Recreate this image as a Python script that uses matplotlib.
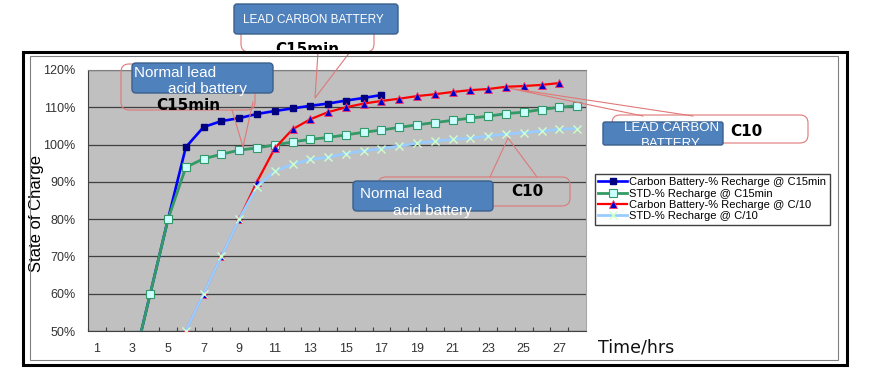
import matplotlib
matplotlib.use("Agg")
import matplotlib.pyplot as plt
from matplotlib.patches import FancyBboxPatch, Rectangle
from matplotlib.lines import Line2D
from matplotlib.transforms import Affine2D, Bbox

# hours (category axis) and state of charge in %
hours_carbon_c15 = list(range(3, 18))
carbon_c15 = [40, 60, 80, 99.3, 104.7, 106.3, 107.1, 108.2, 109.0, 109.7,
              110.4, 111.0, 111.8, 112.5, 113.3]

hours_std_c15 = list(range(3, 29))
std_c15 = [40, 60, 80, 93.9, 96.2, 97.4, 98.5, 99.1, 99.9, 100.7, 101.4,
           101.9, 102.6, 103.3, 103.9, 104.6, 105.3, 105.9, 106.5, 107.1,
           107.6, 108.3, 108.7, 109.4, 110.0, 110.4]

hours_carbon_c10 = list(range(6, 28))
carbon_c10 = [50, 60, 70, 80, 90, 99.0, 104.1, 106.8, 108.7, 110.0, 111.0,
              111.7, 112.3, 113.0, 113.5, 114.1, 114.6, 114.9, 115.5, 115.7,
              116.0, 116.5]

hours_std_c10 = list(range(6, 29))
std_c10 = [50, 60, 70, 80, 88.7, 92.9, 94.7, 96.0, 96.6, 97.6, 98.3, 98.9,
           99.6, 100.4, 100.9, 101.4, 101.7, 102.3, 102.8, 103.2, 103.6,
           104.1, 104.3]

series_labels = ["Carbon Battery-% Recharge @ C15min",
                 "STD-% Recharge @ C15min",
                 "Carbon Battery-% Recharge @ C/10",
                 "STD-% Recharge @ C/10"]

y_ticks = [50, 60, 70, 80, 90, 100, 110, 120]
x_ticks = list(range(1, 28, 2))

W, H = 886, 390
fig = plt.figure(figsize=(W / 100, H / 100), dpi=100)
fig.patch.set_facecolor("white")
# pixel coordinates, origin top-left
PX = Affine2D().scale(1 / W, -1 / H).translate(0, 1) + fig.transFigure

ax = fig.add_axes([88 / W, (H - 331) / H, 498 / W, 261 / H])
ax.set_facecolor("#C0C0C0")

l1, = ax.plot(hours_carbon_c15, carbon_c15, color="#0000FF", lw=1.9,
              marker="s", ms=5, mfc="#000080", mec="#000080", zorder=3)
l2, = ax.plot(hours_std_c15, std_c15, color="#339966", lw=2.0,
              marker="s", ms=5.5, mfc="#CCFFFF", mec="#339966", mew=0.8, zorder=3)
l3, = ax.plot(hours_carbon_c10, carbon_c10, color="#FF0000", lw=1.6,
              marker="^", ms=6, mfc="#0000CC", mec="#FF3366", mew=0.6, zorder=3)
l4, = ax.plot(hours_std_c10, std_c10, color="#99CCFF", lw=2.0,
              marker="x", ms=6, mec="#CCFFCC", mew=1.0, zorder=3)

ax.set_xlim(0.5, 28.5)
ax.set_ylim(50, 120)
ax.set_yticks(y_ticks)
ax.set_yticklabels([f"{v}%" for v in y_ticks])
ax.set_xticks(x_ticks)
ax.set_xticks([h + 0.5 for h in range(0, 28)], minor=True)
ax.tick_params(axis="y", length=0, pad=9, labelsize=9, labelcolor="#333333")
ax.tick_params(axis="x", which="major", length=0, pad=9, labelsize=9,
               labelcolor="#333333")
ax.tick_params(axis="x", which="minor", direction="in", length=3,
               color="#404040", width=0.8)
for lab in ax.get_xticklabels() + ax.get_yticklabels():
    lab.set_family("Liberation Sans")
ax.grid(axis="y", color="#404040", lw=0.9)
ax.set_axisbelow(True)
ax.spines["left"].set_color("#404040")
ax.spines["bottom"].set_color("#404040")
ax.spines["top"].set_color("#808080")
ax.spines["right"].set_color("#A8A8A8")

fig.text(37, 213, "State of Charge", transform=PX, rotation=90, ha="center",
         va="center", fontsize=12, family="Liberation Sans")
fig.text(598, 347, "Time/hrs", transform=PX, ha="left", va="center",
         fontsize=12.5, color="#111111")

fig.legend([l1, l2, l3, l4], series_labels, loc="upper left",
           bbox_to_anchor=(595 / W, 1 - 174 / H), bbox_transform=fig.transFigure,
           fancybox=False, edgecolor="#404040", framealpha=1,
           prop={"family": "Liberation Sans", "size": 8}, handlelength=2.6,
           handletextpad=0.2, labelspacing=0.12, borderpad=0.3,
           borderaxespad=0, numpoints=1)

RED = "#E07878"
BLUE_FC = "#4F81BD"
BLUE_EC = "#3A5F8C"


def rbox(x0, y0, x1, y1, fc, ec, r, lw, z):
    p = FancyBboxPatch((x0, y0), x1 - x0, y1 - y0,
                       boxstyle=f"round,pad=0,rounding_size={r}",
                       transform=PX, fc=fc, ec=ec, lw=lw, zorder=z)
    fig.add_artist(p)
    return p


def pointer(pts):
    xs = [p[0] for p in pts]
    ys = [p[1] for p in pts]
    fig.add_artist(Line2D(xs, ys, transform=PX, color=RED, lw=0.8, zorder=2))


# callout outlines and pointers
rbox(241, 18, 374, 52, "none", RED, 8, 0.8, 1.5)
pointer([(318, 52), (315, 98), (350, 52)])
rbox(121, 64, 255, 110, "none", RED, 8, 0.8, 1.5)
pointer([(232, 110), (243, 147), (253, 102)])
rbox(612, 115, 808, 143, "none", RED, 8, 0.8, 1.5)
pointer([(643, 116), (508, 88), (693, 116)])
rbox(378, 177, 570, 206, "none", RED, 8, 0.8, 1.5)
pointer([(490, 177), (508, 138), (537, 177)])

# blue labels
rbox(234, 4, 398, 34, BLUE_FC, BLUE_EC, 3, 1.0, 3)
fig.text(243, 20, "LEAD CARBON BATTERY", transform=PX, ha="left", va="center",
         color="white", fontsize=8.5, family="Liberation Sans", zorder=4)

rbox(132, 63, 273, 93, BLUE_FC, BLUE_EC, 4, 1.0, 3)
fig.text(134, 73, "Normal lead", transform=PX, ha="left", va="center",
         color="white", fontsize=11, family="Liberation Sans", zorder=4)
fig.text(168, 89, "acid battery", transform=PX, ha="left", va="center",
         color="white", fontsize=11, family="Liberation Sans", zorder=4)

rbox(603, 122, 723, 145, BLUE_FC, BLUE_EC, 2, 1.0, 3)
fig.text(624, 128, "LEAD CARBON", transform=PX, ha="left", va="center",
         color="white", fontsize=9.5, family="Liberation Sans", zorder=4)
t_bat = fig.text(641, 144, "BATTERY", transform=PX, ha="left", va="center",
                 color="white", fontsize=9.5, family="Liberation Sans", zorder=4)
t_bat.set_clip_box(Bbox([[603, H - 145], [723, H - 122]]))
t_bat.set_clip_on(True)

rbox(353, 181, 493, 211, BLUE_FC, BLUE_EC, 4, 1.0, 3)
fig.text(360, 194, "Normal lead", transform=PX, ha="left", va="center",
         color="white", fontsize=11, family="Liberation Sans", zorder=4)
fig.text(393, 211, "acid battery", transform=PX, ha="left", va="center",
         color="white", fontsize=11, family="Liberation Sans", zorder=4)

# bold rate labels
fig.text(188, 105, "C15min", transform=PX, ha="center", va="center",
         fontsize=11, weight="bold", zorder=4)
t_top = fig.text(307, 50, "C15min", transform=PX, ha="center", va="center",
                 fontsize=11, weight="bold", zorder=4)
t_top.set_clip_box(Bbox([[0, H - 50], [W, H]]))
t_top.set_clip_on(True)
fig.text(746, 131, "C10", transform=PX, ha="center", va="center",
         fontsize=11, weight="bold", zorder=4)
fig.text(527, 192, "C10", transform=PX, ha="center", va="center",
         fontsize=11, weight="bold", zorder=4)

# chart frame
fig.add_artist(Rectangle((23, 52), 824, 313, transform=PX, fill=False,
                         ec="black", lw=2.2, zorder=6))
fig.add_artist(Rectangle((30, 56), 808, 304, transform=PX, fill=False,
                         ec="#808080", lw=0.8, zorder=6))

fig.savefig("out.png", dpi=100)
